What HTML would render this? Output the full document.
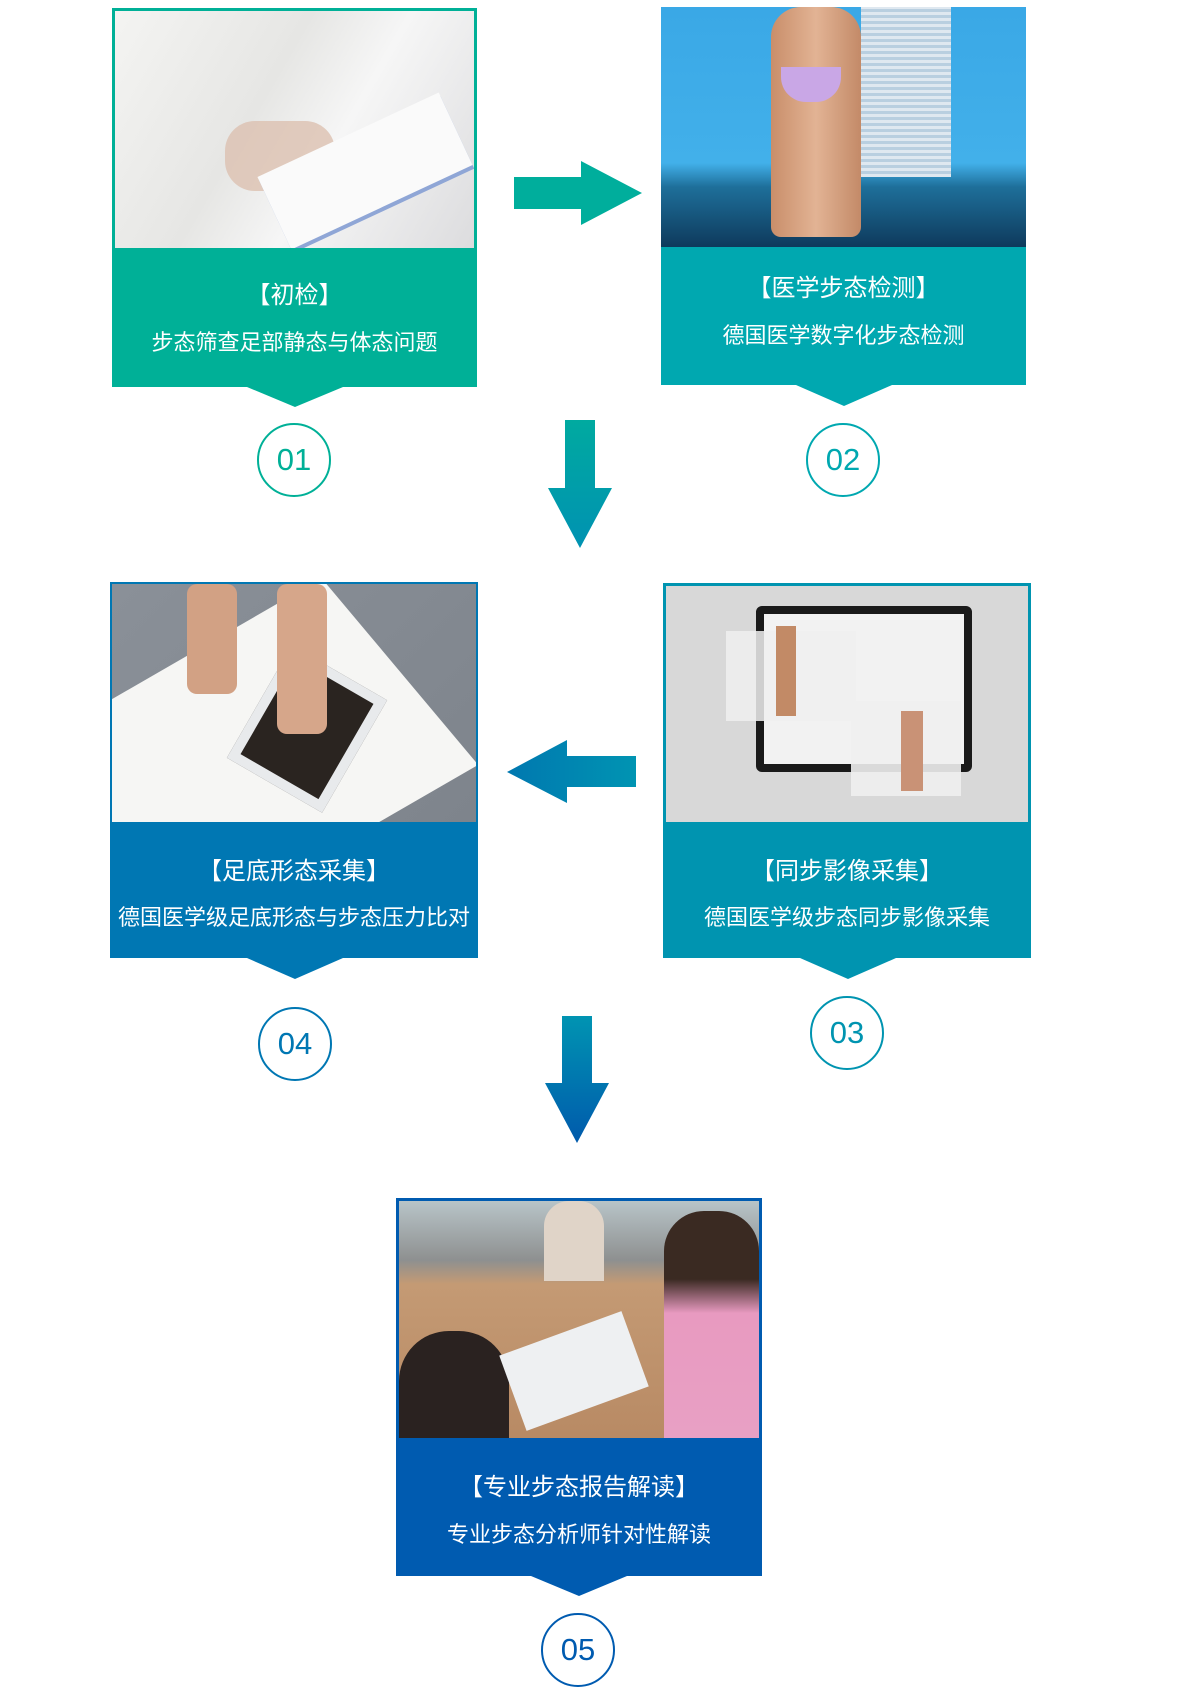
<!DOCTYPE html>
<html><head><meta charset="utf-8">
<style>
html,body{margin:0;padding:0;background:#fff;}
body{width:1200px;height:1700px;position:relative;overflow:hidden;font-family:"Liberation Sans","Noto Sans CJK SC",sans-serif;}
.box{position:absolute;box-sizing:border-box;}
.img{position:absolute;left:0;right:0;top:0;overflow:hidden;}
.t{position:absolute;left:0;right:0;font-size:24px;line-height:30px;white-space:nowrap;color:#fff;text-align:center;}
.s{position:absolute;left:0;right:0;font-size:22px;line-height:28px;white-space:nowrap;color:#fff;text-align:center;}
.tri{position:absolute;width:0;height:0;border-left:48px solid transparent;border-right:48px solid transparent;}
.circ{position:absolute;width:74px;height:74px;border-radius:50%;box-sizing:border-box;border:2.5px solid;text-align:center;line-height:70px;font-size:31px;}
</style></head><body>

<div class="box" style="left:112px;top:8px;width:365px;height:379px;background:#00b097;border:3px solid #00b097;">
  <div class="img" style="height:237px;background:linear-gradient(120deg,#f4f4f2 0%,#e6e6e4 40%,#f6f6f6 60%,#dcdcde 100%);">
    <div style="position:absolute;left:110px;top:110px;width:110px;height:70px;background:#dcc0b0;border-radius:30px;opacity:.8"></div>
    <div style="position:absolute;left:150px;top:120px;width:200px;height:80px;background:#fafafa;transform:rotate(-25deg);box-shadow:0 4px 0 #8fa6d6"></div>
  </div>
  <div class="t" style="top:270px;">【初检】</div>
  <div class="s" style="top:318px;">步态筛查足部静态与体态问题</div>
</div>
<div class="tri" style="left:247px;top:387px;border-top:20px solid #00b097;"></div>
<div class="circ" style="left:257px;top:423px;border-color:#00b097;color:#00b097;">01</div>

<svg style="position:absolute;left:0;top:0" width="1200" height="1700">
  <defs>
    <linearGradient id="g1" x1="0" y1="0" x2="0" y2="1"><stop offset="0" stop-color="#00aaa0"/><stop offset="1" stop-color="#0092b2"/></linearGradient>
    <linearGradient id="g2" x1="0" y1="0" x2="1" y2="0"><stop offset="0" stop-color="#0078b0"/><stop offset="1" stop-color="#0094b2"/></linearGradient>
    <linearGradient id="g3" x1="0" y1="0" x2="0" y2="1"><stop offset="0" stop-color="#0094b2"/><stop offset="1" stop-color="#005aac"/></linearGradient>
  </defs>
  <polygon points="514,177 581,177 581,161 642,193 581,225 581,209 514,209" fill="#00ae9c"/>
  <polygon points="565,420 595,420 595,488 612,488 580,548 548,488 565,488" fill="url(#g1)"/>
  <polygon points="636,756 567,756 567,740 507,772 567,803 567,787 636,787" fill="url(#g2)"/>
  <polygon points="562,1016 592,1016 592,1083 609,1083 577,1143 545,1083 562,1083" fill="url(#g3)"/>
</svg>

<div class="box" style="left:661px;top:7px;width:365px;height:378px;background:#00a8b0;">
  <div class="img" style="height:240px;background:linear-gradient(180deg,#3aa8e6 0%,#42b0ea 65%,#1e6f9a 75%,#0e3a5c 100%);">
    <div style="position:absolute;left:110px;top:0;width:90px;height:230px;background:linear-gradient(90deg,#c98e6a,#e2b394,#c38a68);border-radius:30px 30px 10px 10px;"></div>
    <div style="position:absolute;left:120px;top:60px;width:60px;height:35px;background:#c9a7e6;border-radius:0 0 25px 25px;"></div>
    <div style="position:absolute;left:200px;top:0;width:90px;height:170px;background:repeating-linear-gradient(0deg,#dfe8f0 0 3px,#b9cfe0 3px 6px);"></div>
  </div>
  <div class="t" style="top:267px;">【医学步态检测】</div>
  <div class="s" style="top:315px;">德国医学数字化步态检测</div>
</div>
<div class="tri" style="left:796px;top:385px;border-top:21px solid #00a8b0;"></div>
<div class="circ" style="left:806px;top:423px;border-color:#00a8b0;color:#00a8b0;">02</div>

<div class="box" style="left:110px;top:582px;width:368px;height:376px;background:#0077b3;border:2px solid #0077b3;">
  <div class="img" style="height:238px;background:linear-gradient(135deg,#8a9098 0%,#7e848c 100%);">
    <div style="position:absolute;left:-20px;top:50px;width:330px;height:240px;background:#f6f6f4;transform:rotate(-30deg) skewX(10deg);"></div>
    <div style="position:absolute;left:140px;top:80px;width:90px;height:110px;background:#2a2420;transform:rotate(30deg);border:10px solid #e8eaec;"></div>
    <div style="position:absolute;left:75px;top:0;width:50px;height:110px;background:#d2a184;border-radius:10px;"></div>
    <div style="position:absolute;left:165px;top:0;width:50px;height:150px;background:#d6a68a;border-radius:10px;"></div>
  </div>
  <div class="t" style="top:273px;">【足底形态采集】</div>
  <div class="s" style="top:320px;">德国医学级足底形态与步态压力比对</div>
</div>
<div class="tri" style="left:247px;top:958px;border-top:21px solid #0077b3;"></div>
<div class="circ" style="left:258px;top:1007px;border-color:#0077b3;color:#0077b3;">04</div>

<div class="box" style="left:663px;top:583px;width:368px;height:375px;background:#0094b0;border:3px solid #0094b0;">
  <div class="img" style="height:236px;background:#d8d8d8;">
    <div style="position:absolute;left:90px;top:20px;width:200px;height:150px;background:#f2f2f2;border:8px solid #1a1a1a;border-radius:6px;"></div>
    <div style="position:absolute;left:60px;top:45px;width:130px;height:90px;background:rgba(240,240,240,.85);"></div>
    <div style="position:absolute;left:185px;top:115px;width:110px;height:95px;background:rgba(240,240,240,.9);"></div>
    <div style="position:absolute;left:110px;top:40px;width:20px;height:90px;background:#c28a66;"></div>
    <div style="position:absolute;left:235px;top:125px;width:22px;height:80px;background:#c99276;"></div>
  </div>
  <div class="t" style="top:271px;">【同步影像采集】</div>
  <div class="s" style="top:318px;">德国医学级步态同步影像采集</div>
</div>
<div class="tri" style="left:800px;top:958px;border-top:21px solid #0094b0;"></div>
<div class="circ" style="left:810px;top:996px;border-color:#0094b0;color:#0094b0;">03</div>

<div class="box" style="left:396px;top:1198px;width:366px;height:378px;background:#005bb0;border:3px solid #005bb0;">
  <div class="img" style="height:237px;background:linear-gradient(180deg,#b8c4c8 0%,#8e9090 25%,#c49a74 35%,#b88a64 100%);">
    <div style="position:absolute;left:0;top:130px;width:110px;height:107px;background:#2a2220;border-radius:50px 50px 0 0;"></div>
    <div style="position:absolute;left:265px;top:10px;width:95px;height:227px;background:linear-gradient(180deg,#3a2a22 0,#3a2a22 30%,#e89ac0 45%,#e8a0c4 100%);border-radius:40px 40px 0 0;"></div>
    <div style="position:absolute;left:145px;top:0;width:60px;height:80px;background:#e0d4c8;border-radius:25px 25px 0 0;"></div>
    <div style="position:absolute;left:110px;top:130px;width:130px;height:80px;background:#eef0f2;transform:rotate(-20deg);"></div>
  </div>
  <div class="t" style="top:272px;">【专业步态报告解读】</div>
  <div class="s" style="top:320px;">专业步态分析师针对性解读</div>
</div>
<div class="tri" style="left:531px;top:1576px;border-top:20px solid #005bb0;"></div>
<div class="circ" style="left:541px;top:1613px;border-color:#005bb0;color:#005bb0;">05</div>

</body></html>
